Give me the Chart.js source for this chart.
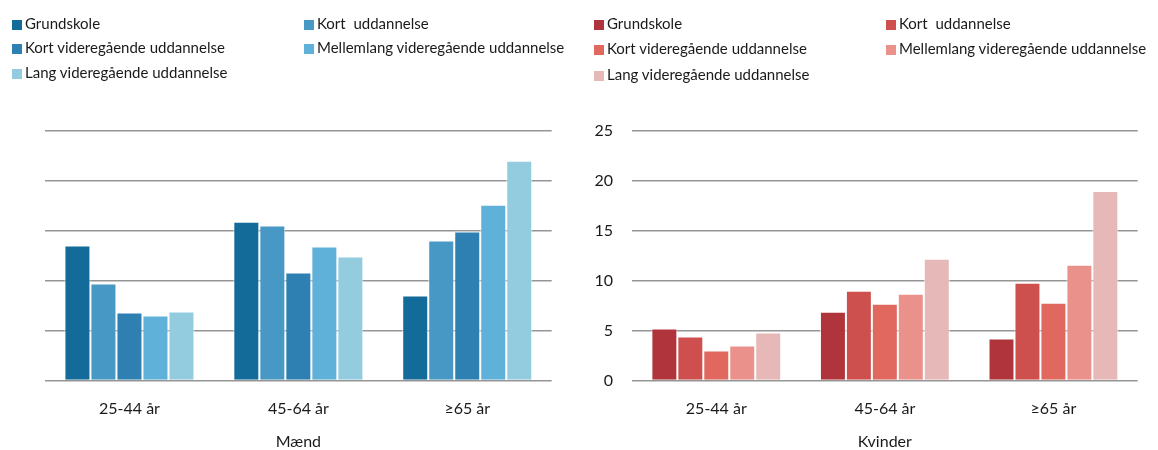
<!DOCTYPE html>
<html>
<head>
  <title>Uddannelse - Mænd og Kvinder</title>
  <script src="https://cdn.jsdelivr.net/npm/chart.js"></script>
  <style>
    body {
      margin: 0;
      background-color: white;
      font-family: Lato, "Open Sans", sans-serif;
      color: #1a1a1a;
    }
    #page {
      position: relative;
      width: 1158px;
      height: 450px;
      overflow: hidden;
    }
    canvas {
      position: absolute;
      top: 0;
    }
    .legend {
      position: absolute;
      top: 0;
      font-size: 15px;
    }
    .item {
      position: absolute;
      white-space: pre;
      line-height: 18px;
    }
    .box {
      display: inline-block;
      width: 10px;
      height: 10px;
      margin-right: 3px;
      vertical-align: -1px;
    }
  </style>
</head>
<body>
  <div id="page">
    <canvas id="maendChart" width="579" height="450" style="left:0px"></canvas>
    <canvas id="kvinderChart" width="578" height="450" style="left:580px"></canvas>
    <div class="legend" id="maendLegend" style="left:12px"></div>
    <div class="legend" id="kvinderLegend" style="left:594px"></div>
  </div>

  <script>
    const ageGroups = ["25-44 år", "45-64 år", "≥65 år"];
    const educationLevels = [
      "Grundskole",
      "Kort  uddannelse",
      "Kort videregående uddannelse",
      "Mellemlang videregående uddannelse",
      "Lang videregående uddannelse"
    ];

    // Mænd, en række pr. uddannelse (25-44, 45-64, >=65)
    const maendGrundskole = [13.5, 15.9, 8.5];
    const maendKort = [9.7, 15.5, 14.0];
    const maendKortVideregaaende = [6.8, 10.8, 14.9];
    const maendMellemlang = [6.5, 13.4, 17.6];
    const maendLang = [6.9, 12.4, 22.0];

    // Kvinder
    const kvinderGrundskole = [5.2, 6.9, 4.2];
    const kvinderKort = [4.4, 9.0, 9.8];
    const kvinderKortVideregaaende = [3.0, 7.7, 7.8];
    const kvinderMellemlang = [3.5, 8.7, 11.6];
    const kvinderLang = [4.8, 12.2, 19.0];

    const yTicks = [0, 5, 10, 15, 20, 25];

    const blueColors = ["#136b9a", "#4898c5", "#2d80b1", "#5fb1da", "#94ccdf"];
    const redColors = ["#b0343b", "#cd504e", "#e0685e", "#e9918a", "#e6b8b8"];

    const maendData = [maendGrundskole, maendKort, maendKortVideregaaende, maendMellemlang, maendLang];
    const kvinderData = [kvinderGrundskole, kvinderKort, kvinderKortVideregaaende, kvinderMellemlang, kvinderLang];

    function buildLegend(id, colors, rowTops) {
      const legend = document.getElementById(id);
      educationLevels.forEach((name, i) => {
        const item = document.createElement("div");
        item.className = "item";
        item.style.left = (i % 2 === 0 ? 0 : 292) + "px";
        item.style.top = rowTops[Math.floor(i / 2)] + "px";
        item.innerHTML = '<span class="box" style="background:' + colors[i] + '"></span>' + name;
        legend.appendChild(item);
      });
    }

    function makeChart(canvasId, data, colors, title, showTicks, yWidth, padding) {
      const ctx = document.getElementById(canvasId).getContext("2d");
      return new Chart(ctx, {
        type: "bar",
        data: {
          labels: ageGroups,
          datasets: data.map((values, i) => ({
            label: educationLevels[i],
            data: values,
            backgroundColor: colors[i],
            borderColor: "rgba(255,255,255,0.75)",
            borderWidth: 1,
            borderSkipped: "bottom",
            categoryPercentage: 0.77,
            barPercentage: 1.0
          }))
        },
        options: {
          responsive: false,
          animation: false,
          layout: { padding: padding },
          plugins: {
            legend: { display: false },
            tooltip: { enabled: false }
          },
          scales: {
            x: {
              grid: { display: false },
              border: { display: false },
              ticks: {
                padding: 11,
                color: "#1a1a1a",
                font: { family: "Lato", size: 16 }
              },
              title: {
                display: true,
                text: title,
                color: "#1a1a1a",
                padding: { top: 0, bottom: 0 },
                font: { family: "Lato", size: 16, lineHeight: 1 }
              },
              afterFit: (scale) => { scale.height = 69.5; }
            },
            y: {
              min: 0,
              max: 25,
              afterBuildTicks: (scale) => {
                scale.ticks = yTicks.map(v => ({ value: v }));
              },
              grid: {
                color: "#959595",
                lineWidth: 1.6,
                drawTicks: false
              },
              border: { display: false },
              ticks: {
                display: showTicks,
                padding: 19,
                color: "#1a1a1a",
                font: { family: "Lato", size: 16 }
              },
              afterFit: (scale) => { scale.width = yWidth; }
            }
          }
        }
      });
    }

    buildLegend("maendLegend", blueColors, [14, 38, 63]);
    buildLegend("kvinderLegend", redColors, [14, 39, 65]);

    makeChart("maendChart", maendData, blueColors, "Mænd", false, 45, { top: 130.7, right: 27.3, bottom: 0, left: 0 });
    makeChart("kvinderChart", kvinderData, redColors, "Kvinder", true, 52, { top: 131, right: 20.3, bottom: 0, left: 0 });
  </script>
</body>
</html>
